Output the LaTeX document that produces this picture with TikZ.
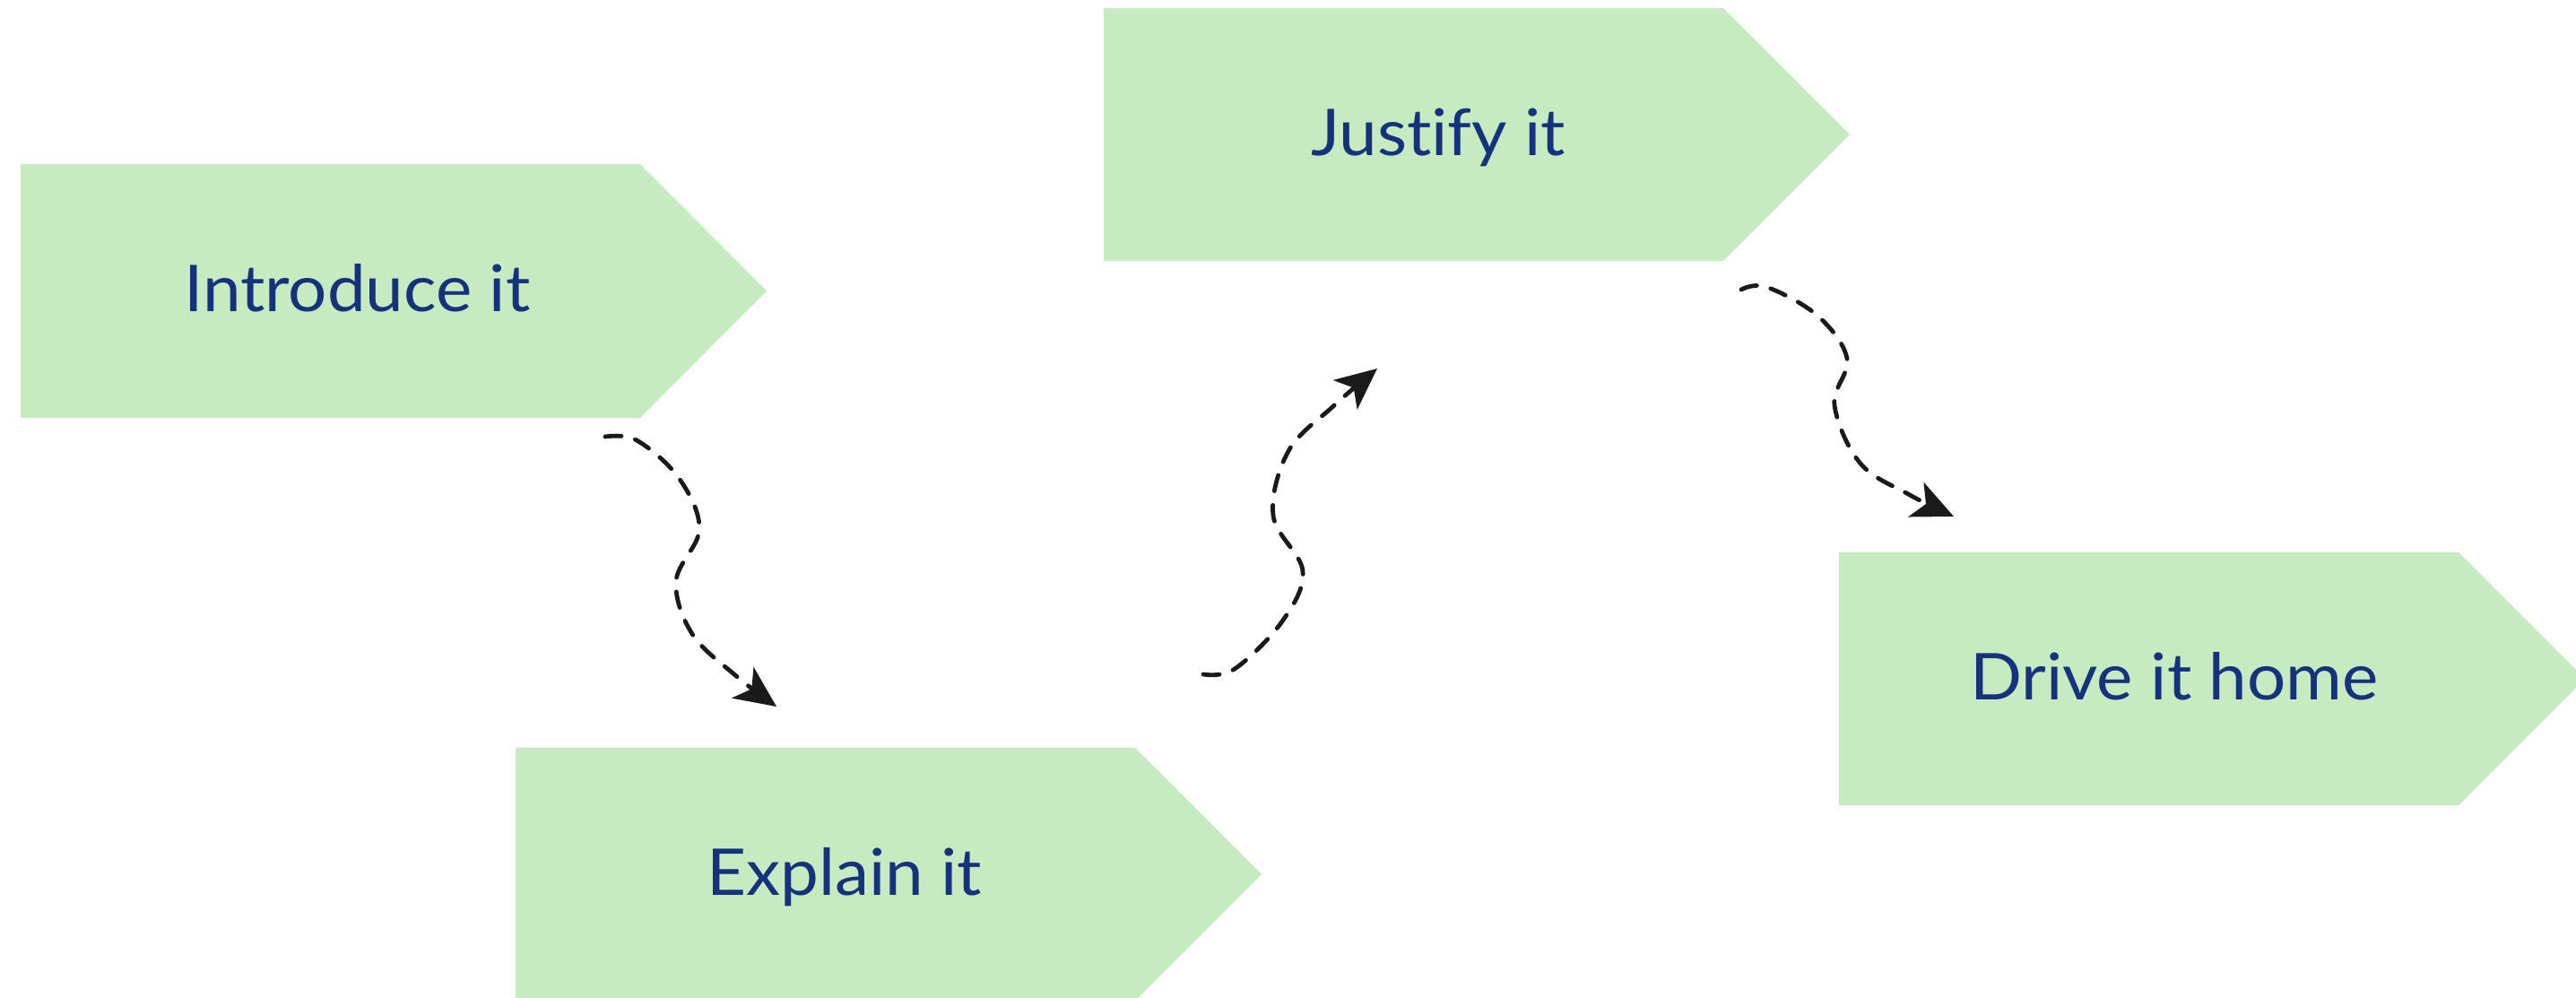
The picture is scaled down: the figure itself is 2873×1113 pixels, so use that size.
\documentclass[tikz,border=0pt]{standalone}
\usepackage{fontspec}
\setmainfont{Lato}[FakeStretch=1.06, Ligatures={TeX,NoCommon}]
\usetikzlibrary{arrows.meta}
\definecolor{boxgreen}{RGB}{198,235,192}
\definecolor{navy}{RGB}{22,50,125}
\definecolor{ink}{RGB}{26,26,26}
\tikzset{
  boxshape/.style={fill=boxgreen},
  lbl/.style={text=navy, font=\fontsize{72}{86}\selectfont, anchor=base west, inner sep=0pt},
  flow/.style={draw=ink, line width=4.8pt, line cap=round, dash pattern=on 18pt off 16pt,
    -{Stealth[length=46pt, width=42pt, inset=12pt, line cap=butt]}}
}
\begin{document}
\begin{tikzpicture}[x=1pt, y=-1pt]
\useasboundingbox (0,0) rectangle (2873,1113);
\clip (0,0) rectangle (2873,1113);
% shapes
\fill[boxshape] (23,183) -- (714,183) -- (855,324.5) -- (714,466) -- (23,466) -- cycle;
\fill[boxshape] (1231,9) -- (1922,9) -- (2063,150) -- (1922,291) -- (1231,291) -- cycle;
\fill[boxshape] (575,834) -- (1266,834) -- (1407,975) -- (1266,1116) -- (575,1116) -- cycle;
\fill[boxshape] (2051,616) -- (2742,616) -- (2883,757) -- (2742,898) -- (2051,898) -- cycle;
% labels
\node[lbl] (intro) at (205,347) {Introduce it};
\node[lbl] (justify) at (1462,173) {Justify it};
\node[lbl] (explain) at (788,998) {Explain it};
\node[lbl] (drive) at (2197,780) {Drive it home};
% connector ends
\coordinate (a1s) at (675,487);
\coordinate (a1e) at (866,788);
\coordinate (a2s) at (1342,752);
\coordinate (a2e) at (1536,411);
\coordinate (a3s) at (1942,323);
\coordinate (a3e) at (2179,576);
% connectors
\draw[flow] plot[smooth, tension=0.6] coordinates {(a1s) (710,491) (757,533) (780,590) (754,648) (772,707) (820,753) (a1e)};
\draw[flow] plot[smooth, tension=0.6] coordinates {(a2s) (1377,746) (1430,693) (1453,637) (1420,575) (1437,503) (1487,453) (a2e)};
\draw[flow] plot[smooth, tension=0.6] coordinates {(a3s) (1970,320) (2027,352) (2060,400) (2046,452) (2075,517) (2130,552) (a3e)};
\end{tikzpicture}
\end{document}
